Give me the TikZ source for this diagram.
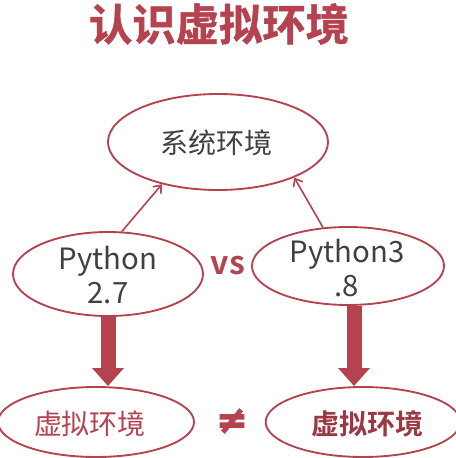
\documentclass[tikz,border=0pt]{standalone}
\usepackage{fontspec}
\setmainfont{Noto Sans CJK SC}[BoldFont={Noto Sans CJK SC Bold}]
\newfontfamily\symbfont{DejaVu Sans Bold}[FakeBold=3.5]
\newfontfamily\heavyfont{Noto Sans CJK SC Bold}[FakeBold=1.2]
\usetikzlibrary{arrows.meta,shapes.geometric}
\definecolor{slidered}{RGB}{181,67,79}
\definecolor{slidegray}{RGB}{64,64,64}
\begin{document}
\begin{tikzpicture}[x=0.75pt,y=0.75pt,yscale=-1,xscale=1,
  oval/.style={draw=slidered,line width=1.4pt,ellipse,inner sep=0pt},
  txt/.style={inner sep=0.75pt,align=center,font=\fontsize{22}{25}\selectfont},
  thinarrow/.style={draw=slidered,line width=1.2pt,-{Straight Barb[length=5pt,width=8pt]}},
  bigarrow/.style={draw=slidered,line width=11.25pt,-{Triangle[width=23pt,length=13.5pt]}}]
\useasboundingbox (0,0) rectangle (455,458);

% Text Node
\node [txt,text=slidered,font=\heavyfont\fontsize{32.5}{34}\selectfont] (title) at (219,24) {认识虚拟环境};

%Shape: Ellipse
\node [oval,minimum width=165pt,minimum height=72pt] (sys) at (218,142) {};
%Shape: Ellipse
\node [oval,minimum width=142.5pt,minimum height=63pt] (pyold) at (108,274) {};
%Shape: Ellipse
\node [oval,minimum width=144pt,minimum height=58.5pt] (pynew) at (348,266) {};
%Shape: Ellipse
\node [oval,minimum width=147pt,minimum height=52.5pt] (venvA) at (96,422) {};
%Shape: Ellipse
\node [oval,minimum width=146pt,minimum height=52.5pt] (venvB) at (363,422) {};

% Text Node
\node [txt,text=slidegray,font=\fontsize{21}{25}\selectfont] (systxt) at (217,143) {系统环境};
% Text Node
\node [txt,text=slidegray] (pyoldtxt) at (108,275) {Python\\2.7};
% Text Node
\node [txt,text=slidegray] (pynewtxt) at (347,268) {Python3\\.8};
% Text Node
\node [txt,text=slidered,font=\fontsize{21}{25}\selectfont] (venvAtxt) at (90,424) {虚拟环境};
% Text Node
\node [txt,text=slidered!85!black,font=\fontsize{21}{25}\bfseries] (venvBtxt) at (367,424) {虚拟环境};
% Text Node
\node [txt,text=slidered,font=\fontsize{24}{26}\bfseries] (vs) at (228,266) {vs};
% Text Node
\node [txt,text=slidered,font=\symbfont\fontsize{28}{30}\selectfont] (neq) at (232,421) {≠};

%Straight Lines
\draw [thinarrow] (pyold.72) -- (sys.217);
%Straight Lines
\draw [thinarrow] (pynew.123) -- (sys.335);
%Straight Lines
\draw [bigarrow] (pyold.south) -- (pyold.south |- venvA.north);
\coordinate (shaftB) at ([xshift=4.5pt]pynew.south);
\draw [bigarrow] (shaftB) -- (shaftB |- venvB.north);
\end{tikzpicture}
\end{document}
